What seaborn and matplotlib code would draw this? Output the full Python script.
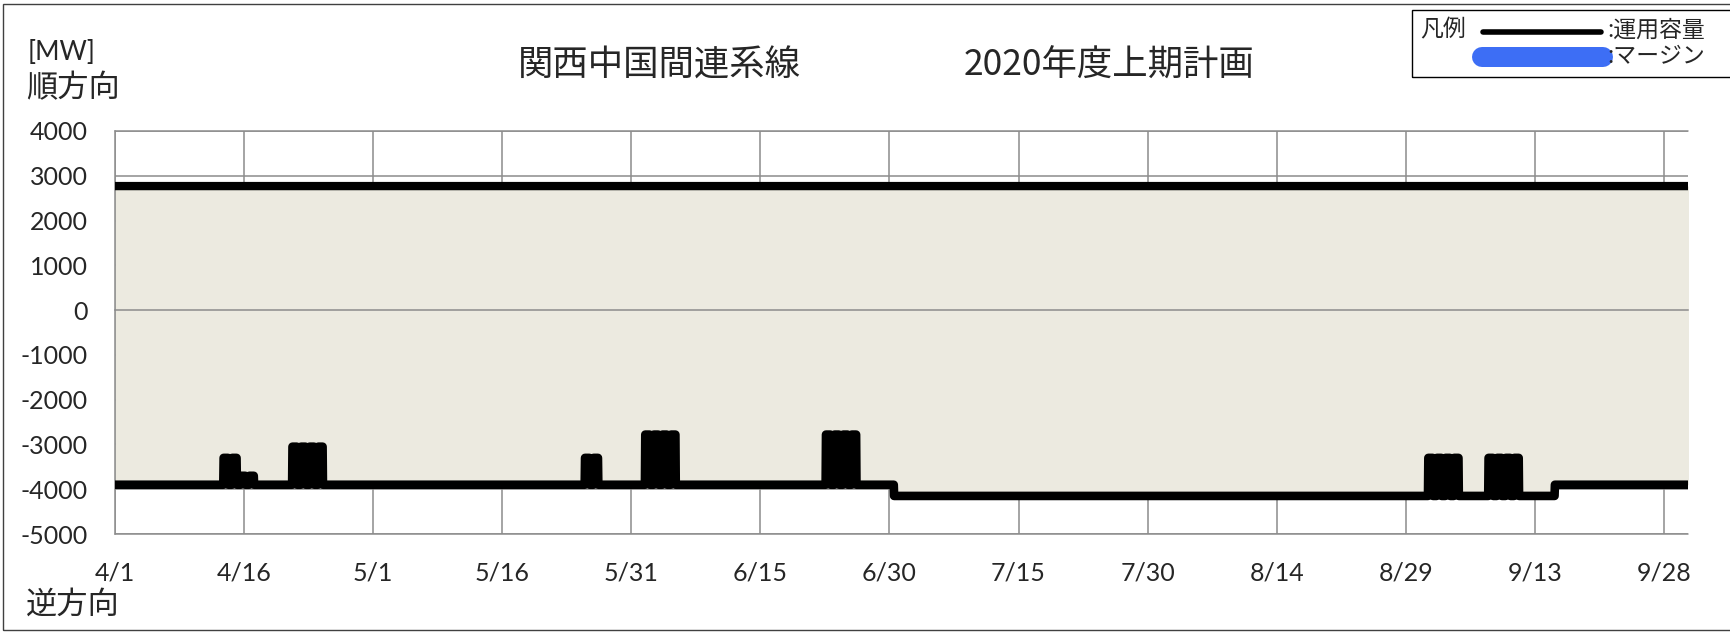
import numpy as np
import pandas as pd
import seaborn as sns
import matplotlib.pyplot as plt
import matplotlib.dates as mdates
from matplotlib.lines import Line2D
from matplotlib.patches import Rectangle


#### データ ####

# 運用容量 [MW]（順方向は一定）
upper_mw = 2770

# 逆方向の基準値と切り替わり時刻
base_from = ['2020-04-01 00:00', '2020-06-30 13:00', '2020-09-15 08:00']
base_mw = [-3900, -4150, -3900]

# 作業による容量低下（開始日、日数、値）
outage_start = ['2020-04-13', '2020-04-15', '2020-04-21', '2020-05-25',
                '2020-06-01', '2020-06-22', '2020-08-31', '2020-09-07']
outage_days = [2, 2, 4, 2, 4, 4, 4, 4]
outage_mw = [-3300, -3700, -3050, -3300, -2780, -2780, -3300, -3300]
outage_hours = (15, 28)   # 15時から翌4時まで

tick_dates = pd.date_range('2020-04-01', periods=13, freq='15D')
tick_labels = ['4/1', '4/16', '5/1', '5/16', '5/31', '6/15', '6/30',
               '7/15', '7/30', '8/14', '8/29', '9/13', '9/28']

# 時間毎の系列を作る
t = pd.date_range('2020-04-01 00:00', '2020-09-30 23:00', freq='h')
lower = np.zeros(len(t))
for start, mw in zip(base_from, base_mw):
    lower[t >= pd.Timestamp(start)] = mw
for start, n, mw in zip(outage_start, outage_days, outage_mw):
    for k in range(n):
        d0 = pd.Timestamp(start) + pd.Timedelta(days=k)
        m = (t >= d0 + pd.Timedelta(hours=outage_hours[0])) & (t < d0 + pd.Timedelta(hours=outage_hours[1]))
        lower[m] = mw

df = pd.DataFrame({'時刻': t, '下限': lower, '上限': float(upper_mw)})


#### 図 ####

sns.set_style('white')
plt.rcParams['font.family'] = ['Lato', 'Noto Sans CJK JP', 'DejaVu Sans']
plt.rcParams['axes.unicode_minus'] = False
jp = ['Noto Sans CJK JP', 'DejaVu Sans']
grey = '#8C8C8C'

W, H = 1730, 632
fig = plt.figure(figsize=(W / 100, H / 100), dpi=100)
ax = fig.add_axes([115 / W, 1 - 534 / H, (1688 - 115) / W, (534 - 131) / H])

ax.fill_between(df['時刻'], df['下限'], df['上限'], color='#ECEAE0', lw=0, zorder=1)
sns.lineplot(data=df, x='時刻', y='上限', ax=ax, color='black', lw=6.0,
             estimator=None, errorbar=None, zorder=3)
sns.lineplot(data=df, x='時刻', y='下限', ax=ax, color='black', lw=6.2,
             estimator=None, errorbar=None, zorder=3,
             solid_joinstyle='round', solid_capstyle='butt')

ax.set_xlim(mdates.date2num(pd.Timestamp('2020-04-01')),
            mdates.date2num(pd.Timestamp('2020-04-01')) + 182.8)
ax.set_ylim(-5000, 4000)
ax.set_yticks(range(-5000, 4001, 1000))
ax.set_xticks(mdates.date2num(tick_dates))
ax.set_xlabel('')
ax.set_ylabel('')

ax.grid(True, color=grey, lw=1.1)
ax.set_axisbelow(True)
for y in (4000, -5000):
    ax.axhline(y, color=grey, lw=1.1, clip_on=False, zorder=0.6)

ax.spines['top'].set_visible(False)
ax.spines['right'].set_visible(False)
ax.spines['left'].set_color(grey)
ax.spines['left'].set_linewidth(1.1)
ax.spines['bottom'].set_position(('data', 0))
ax.spines['bottom'].set_color(grey)
ax.spines['bottom'].set_linewidth(1.1)
ax.tick_params(axis='y', direction='out', length=6.5, width=1.1, color=grey,
               labelsize=18, pad=13)
ax.tick_params(axis='x', direction='out', length=6.5, width=1.1, color=grey,
               labelbottom=False)

# 日付ラベルは下端に
sec = ax.secondary_xaxis(0)
sec.set_xticks(mdates.date2num(tick_dates))
sec.set_xticklabels(tick_labels)
sec.spines['bottom'].set_visible(False)
sec.tick_params(length=0, labelsize=18, pad=20)

# テキスト
fig.text(28 / W, 1 - 53 / H, '[MW]', fontsize=19, va='center', ha='left')
fig.text(26 / W, 1 - 88 / H, '順方向', fontsize=22.5, family=jp, va='center', ha='left')
fig.text(26 / W, 1 - 605 / H, '逆方向', fontsize=22.5, family=jp, va='center', ha='left')
fig.text(518 / W, 1 - 66 / H, '関西中国間連系線', fontsize=25.5, family=jp, va='center', ha='left')
fig.text(964 / W, 1 - 66 / H, '2020年度上期計画', fontsize=25.5, family=jp, va='center', ha='left')

# 凡例
fig.add_artist(Rectangle((1412 / W, 1 - 77 / H), 340 / W, 67 / H, fill=False,
                         ec='black', lw=1, transform=fig.transFigure))
fig.add_artist(Line2D([1483 / W, 1601 / W], [1 - 32 / H] * 2, color='black', lw=4,
                      solid_capstyle='round', transform=fig.transFigure))
fig.add_artist(Line2D([1482 / W, 1603 / W], [1 - 57 / H] * 2, color='#3D6EF5', lw=14.4,
                      solid_capstyle='round', transform=fig.transFigure))
fig.text(1420 / W, 1 - 30 / H, '凡例', fontsize=16.5, family=jp, va='center', ha='left')
fig.text(1607 / W, 1 - 30 / H, ':運用容量', fontsize=16.5, family=jp, va='center', ha='left')
fig.text(1607 / W, 1 - 57 / H, ':マージン', fontsize=16.5, family=jp, va='center', ha='left')

# 外枠
fig.add_artist(Rectangle((3 / W, 2 / H), 1.0, 626 / H, fill=False, ec='#404040', lw=1,
                         transform=fig.transFigure))

fig.savefig('out.png', dpi=100)
